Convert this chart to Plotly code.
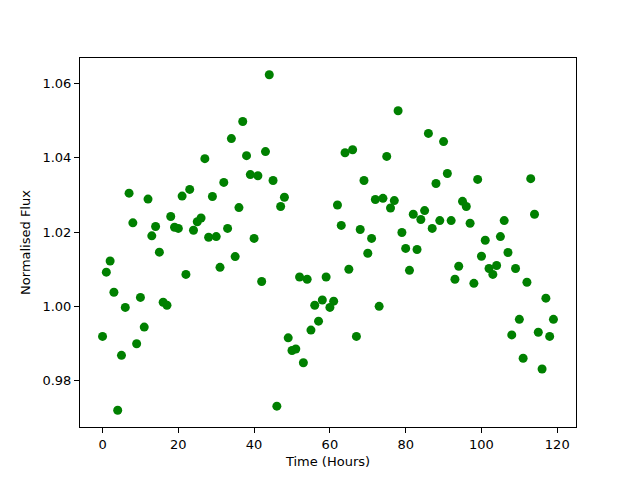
import plotly.graph_objects as go

hours = list(range(120))
flux = [
    0.9919, 1.0092, 1.0122, 1.0038, 0.9720, 0.9868, 0.9997, 1.0305, 1.0225, 0.9899,
    1.0024, 0.9944, 1.0289, 1.0190, 1.0215, 1.0146, 1.0011, 1.0003, 1.0242, 1.0213,
    1.0210, 1.0297, 1.0086, 1.0315, 1.0205, 1.0228, 1.0238, 1.0398, 1.0186, 1.0296,
    1.0188, 1.0105, 1.0334, 1.0210, 1.0452, 1.0134, 1.0266, 1.0498, 1.0406, 1.0355,
    1.0183, 1.0352, 1.0067, 1.0417, 1.0624, 1.0339, 0.9731, 1.0269, 1.0294, 0.9915,
    0.9881, 0.9885, 1.0079, 0.9848, 1.0073, 0.9936, 1.0003, 0.9960, 1.0017, 1.0079,
    0.9997, 1.0014, 1.0273, 1.0218, 1.0414, 1.0100, 1.0422, 0.9919, 1.0207, 1.0339,
    1.0143, 1.0183, 1.0288, 1.0000, 1.0291, 1.0404, 1.0265, 1.0285, 1.0527, 1.0199,
    1.0156, 1.0097, 1.0248, 1.0153, 1.0234, 1.0258, 1.0466, 1.0210, 1.0331, 1.0231,
    1.0444, 1.0358, 1.0231, 1.0073, 1.0108, 1.0283, 1.0269, 1.0224, 1.0062, 1.0342,
    1.0135, 1.0178, 1.0102, 1.0086, 1.0110, 1.0188, 1.0231, 1.0145, 0.9923, 1.0102,
    0.9965, 0.9860, 1.0065, 1.0344, 1.0248, 0.9930, 0.9831, 1.0022, 0.9919, 0.9965,
]
x_ticks = [0, 20, 40, 60, 80, 100, 120]
y_ticks = [0.98, 1.00, 1.02, 1.04, 1.06]
y_tick_labels = ["0.98", "1.00", "1.02", "1.04", "1.06"]

def padded(vals, frac=0.05):
    lo, hi = min(vals), max(vals)
    d = (hi - lo) * frac
    return [lo - d, hi + d]

fig = go.Figure(go.Scatter(
    x=hours, y=flux, mode="markers",
    marker=dict(color="#008000", size=9, line=dict(width=0)),
))

font = dict(family="DejaVu Sans", size=13, color="#000000")
axis_common = dict(
    showgrid=False, zeroline=False, showline=True, linecolor="#000000", linewidth=1,
    mirror=True, ticks="outside", ticklen=5, tickwidth=1, tickcolor="#000000",
    tickfont=font,
)
fig.update_layout(
    width=640, height=480,
    margin=dict(l=72, r=72, t=50, b=61),
    paper_bgcolor="white", plot_bgcolor="white",
    showlegend=False, font=font,
    xaxis=dict(range=padded(hours), tickvals=x_ticks,
               title=dict(text="Time (Hours)", font=font, standoff=6), **axis_common),
    yaxis=dict(range=padded(flux), tickvals=y_ticks, ticktext=y_tick_labels,
               title=dict(text="Normalised Flux", font=font, standoff=8), **axis_common),
)
fig.write_html("out.html")
